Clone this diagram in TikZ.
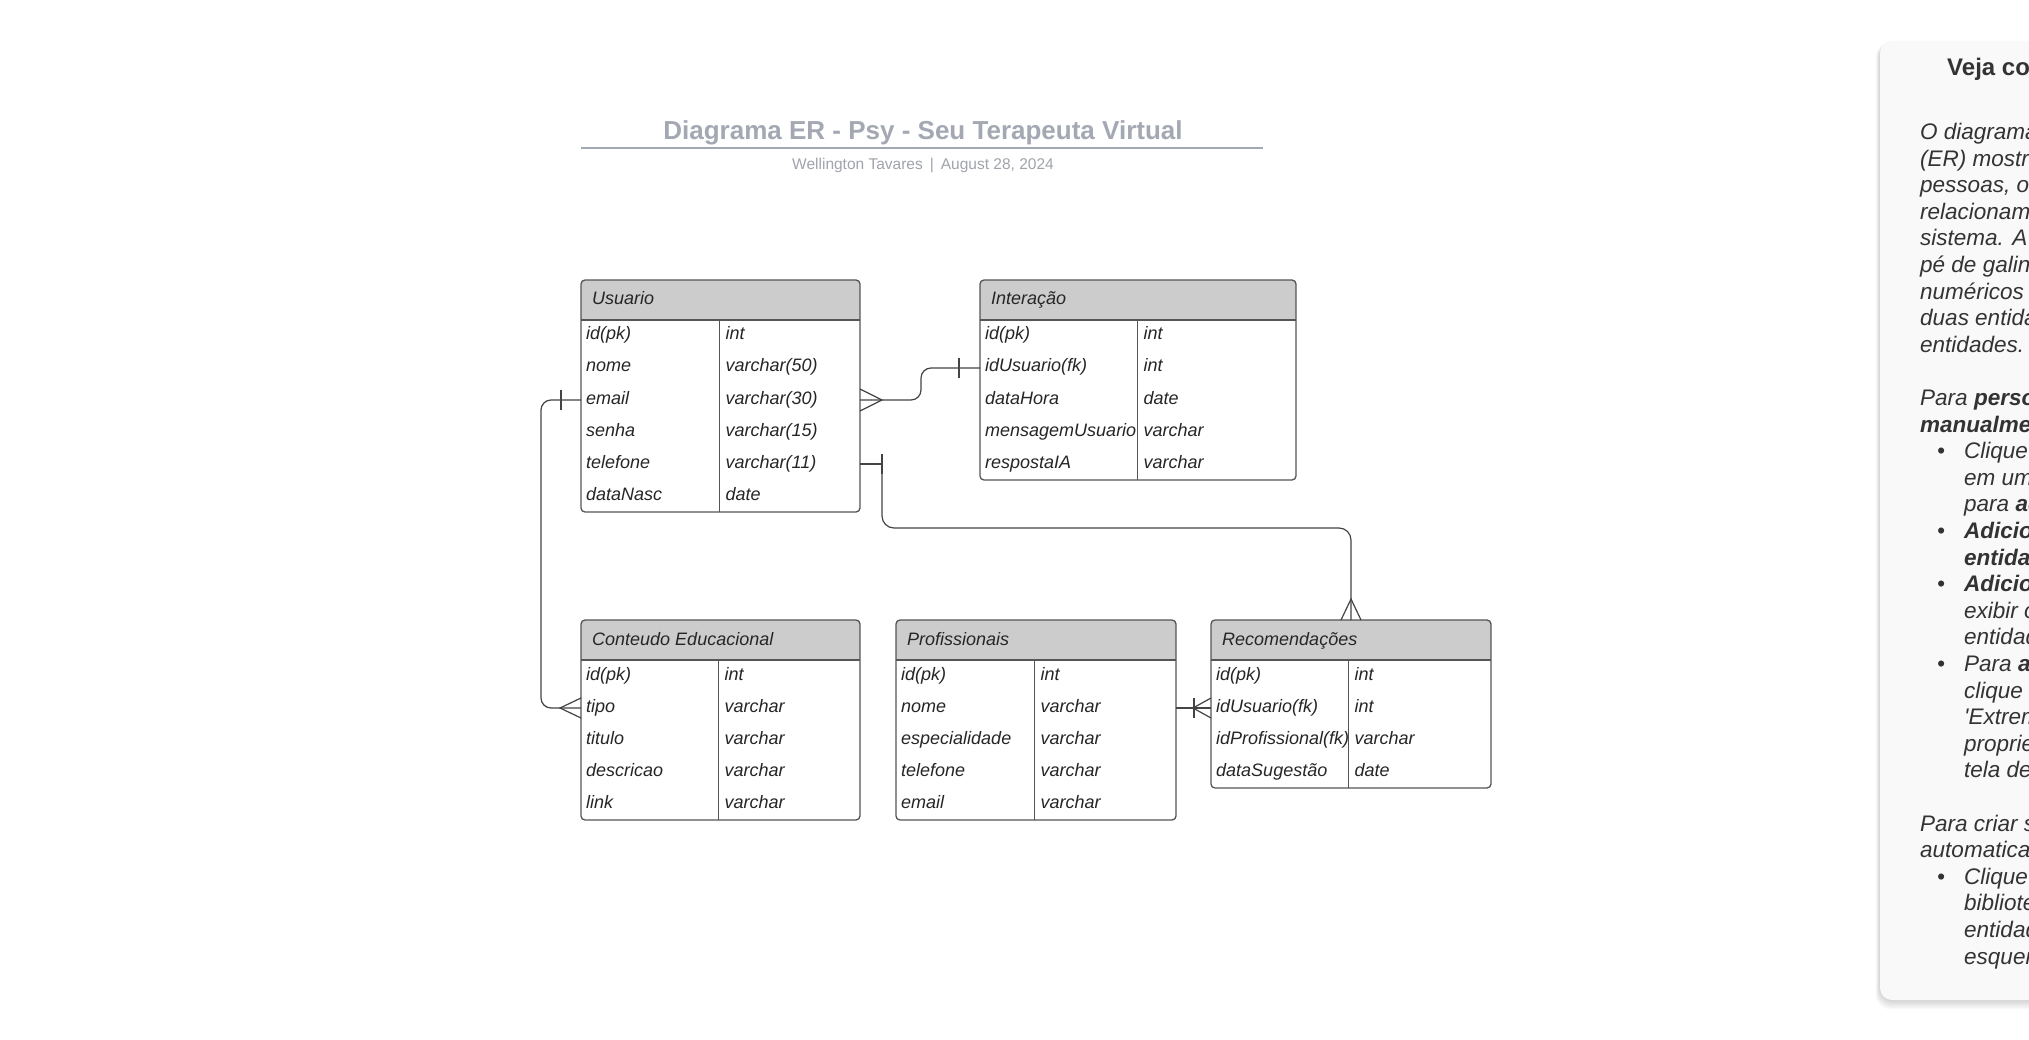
\documentclass[tikz,border=0pt]{standalone}
\usepackage{fontspec}
\setmainfont{Liberation Sans}
\usetikzlibrary{calc}
\definecolor{titlegray}{HTML}{A3A8B2}
\definecolor{subgray}{HTML}{A0A4AA}
\definecolor{hdrgray}{HTML}{CCCCCC}
\definecolor{bordergray}{HTML}{555555}
\definecolor{linegray}{HTML}{444444}
\definecolor{txt}{HTML}{262626}
\definecolor{panelfill}{HTML}{F9F9F9}
\definecolor{paneltxt}{HTML}{333333}
\tikzset{
  tblbox/.style={draw=bordergray, line width=1.3pt, rounded corners=4pt},
  tblline/.style={draw=bordergray, line width=1.1pt},
  hdrtext/.style={font=\fontsize{18}{18}\selectfont\itshape, text=txt, anchor=base west, inner sep=0pt},
  celltext/.style={font=\fontsize{18}{18}\selectfont\itshape, text=txt, anchor=base west, inner sep=0pt},
  conn/.style={draw=linegray, line width=1.2pt},
  ptext/.style={font=\fontsize{22.5}{22.5}\selectfont\itshape, text=paneltxt, anchor=base west, inner sep=0pt},
}
\newcommand\ertable[8]{%
  \pgfmathsetmacro\tblH{40+32*#6}%
  \node[inner sep=0pt, outer sep=0pt, minimum width=#4pt, minimum height=\tblH pt, anchor=north west] (#1) at (#2,#3) {};
  \begin{scope}
    \clip[rounded corners=4pt] (#1.north west) rectangle (#1.south east);
    \fill[hdrgray] (#1.north west) rectangle ($(#1.north east)+(0,40)$);
  \end{scope}
  \draw[tblline] ($(#1.north west)+(0,40)$) -- ($(#1.north east)+(0,40)$);
  \draw[tblline] (#5,#3+40) -- (#5,#3+\tblH);
  \node[hdrtext] (#1-h) at (#2+11,#3+25) {#7};
  \foreach \fa/\ty [count=\i] in {#8} {
    \coordinate (#1-r\i) at (#2,#3+40+32*\i-16);
    \node[celltext] (#1-f\i) at (#2+5,#3+40+32*\i-12) {\fa};
    \node[celltext] (#1-t\i) at (#5+6,#3+40+32*\i-12) {\ty};
  }
  \draw[tblbox] (#1.north west) rectangle (#1.south east);
}
\newcommand\pline[3]{\node[ptext] at (#1,139.5+26.6*#2) {#3};}
\newcommand\pbul[2]{\node[ptext, anchor=base] at (1941,139.5+26.6*#1) {•};\node[ptext] at (1964,139.5+26.6*#1) {#2};}
\begin{document}
\begin{tikzpicture}[x=1pt,y=-1pt]
\useasboundingbox (0,0) rectangle (2029,1040);
\clip (0,0) rectangle (2029,1040);
\fill[white] (0,0) rectangle (2029,1040);

% title block
\node[font=\bfseries\fontsize{26}{26}\selectfont, text=titlegray, anchor=base, inner sep=0pt] (title) at (923,139.5) {Diagrama ER - Psy - Seu Terapeuta Virtual};
\coordinate (rulel) at (581,148);
\coordinate (ruler) at (1263,148);
\draw[titlegray, line width=1.8pt] (rulel) -- (ruler);
\node[font=\fontsize{15.5}{15.5}\selectfont, text=subgray, anchor=base, inner sep=0pt] (sub) at (923,169.5) {Wellington Tavares\hspace{7pt}|\hspace{7pt}August 28, 2024};

% tables
\ertable{usr}{581}{280}{279}{719.5}{6}{Usuario}{id(pk)/int, nome/varchar(50), email/varchar(30), senha/varchar(15), telefone/varchar(11), dataNasc/date}
\ertable{int}{980}{280}{316}{1137.5}{5}{Interação}{id(pk)/int, idUsuario(fk)/int, dataHora/date, mensagemUsuario/varchar, respostaIA/varchar}
\ertable{con}{581}{620}{279}{718.5}{5}{Conteudo Educacional}{id(pk)/int, tipo/varchar, titulo/varchar, descricao/varchar, link/varchar}
\ertable{pro}{896}{620}{280}{1034.5}{5}{Profissionais}{id(pk)/int, nome/varchar, especialidade/varchar, telefone/varchar, email/varchar}
\ertable{rec}{1211}{620}{280}{1348.5}{4}{Recomendações}{id(pk)/int, idUsuario(fk)/int, idProfissional(fk)/varchar, dataSugestão/date}

% Usuario.email -> Interacao.idUsuario
\coordinate (c1a) at (usr.east |- usr-r3);
\coordinate (c1b) at (int.west |- int-r2);
\draw[conn, rounded corners=10pt] (c1a) -- ++(61,0) |- (c1b);
\draw[conn] ($(c1a)+(0,-11)$) -- ($(c1a)+(22,0)$) -- ($(c1a)+(0,11)$);
\draw[conn] ($(c1b)+(-21,-10)$) -- ++(0,20);

% Usuario.email -> Conteudo.tipo
\coordinate (c2a) at (usr.west |- usr-r3);
\coordinate (c2b) at (con.west |- con-r2);
\draw[conn, rounded corners=10pt] (c2a) -- ++(-40,0) |- (c2b);
\draw[conn] ($(c2a)+(-20,-10)$) -- ++(0,20);
\draw[conn] ($(c2b)+(0,-10)$) -- ($(c2b)+(-21,0)$) -- ($(c2b)+(0,10)$);

% Usuario.telefone -> Recomendacoes
\coordinate (c3a) at (usr.east |- usr-r5);
\coordinate (c3b) at ($(c3a)+(22,0)$);
\draw[conn] (c3a) -- (c3b);
\draw[conn, rounded corners=12pt] (c3b) -- ++(0,64) -| (rec.north);
\draw[conn] ($(c3b)+(0,-10)$) -- ++(0,20);
\draw[conn] ($(rec.north)+(-10,0)$) -- ($(rec.north)+(0,-21)$) -- ($(rec.north)+(10,0)$);

% Profissionais.nome -> Recomendacoes.idUsuario
\coordinate (c4a) at (pro.east |- pro-r2);
\coordinate (c4b) at (rec.west |- rec-r2);
\draw[conn] (c4a) -- (c4b);
\draw[conn] ($(c4b)+(-17,-10)$) -- ++(0,20);
\draw[conn] ($(c4b)+(0,-10)$) -- ($(c4b)+(-18,0)$) -- ($(c4b)+(0,10)$);

% side panel
\foreach \s in {1,...,7} {
  \fill[black, opacity=0.022, rounded corners=14pt] (1880-0.6*\s,43) rectangle (2080,1000+1.3*\s);
}
\fill[panelfill, rounded corners=12pt] (1880,41) rectangle (2080,1000);
\node[font=\bfseries\fontsize{24}{24}\selectfont, text=paneltxt, anchor=base west, inner sep=0pt] (ptitle) at (1947,76) {Veja como funciona!};
\pline{1920}{0}{O diagrama de entidade-relacionamento}
\pline{1920}{1}{(ER) mostra como as}
\pline{1920}{2}{pessoas, objetos ou conceitos}
\pline{1920}{3}{relacionamentos}
\pline{1920}{4}{sistema. A notação}
\pline{1920}{5}{pé de galinha}
\pline{1920}{6}{numéricos}
\pline{1920}{7}{duas entidades}
\pline{1920}{8}{entidades.}
\pline{1920}{10}{Para \textbf{personalizar}}
\pline{1920}{11}{\textbf{manualmente}}
\pbul{12}{Clique}
\pline{1964}{13}{em uma}
\pline{1964}{14}{para \textbf{adicionar}}
\pbul{15}{\textbf{Adicionar}}
\pline{1964}{16}{\textbf{entidade}}
\pbul{17}{\textbf{Adicionar}}
\pline{1964}{18}{exibir os}
\pline{1964}{19}{entidade}
\pbul{20}{Para \textbf{alterar}}
\pline{1964}{21}{clique}
\pline{1964}{22}{\textquotesingle Extremidade}
\pline{1964}{23}{propriedades}
\pline{1964}{24}{tela de}
\pline{1920}{26}{Para criar seu}
\pline{1920}{27}{automaticamente}
\pbul{28}{Clique}
\pline{1964}{29}{biblioteca}
\pline{1964}{30}{entidade}
\pline{1964}{31}{esquerda}
\end{tikzpicture}
\end{document}
